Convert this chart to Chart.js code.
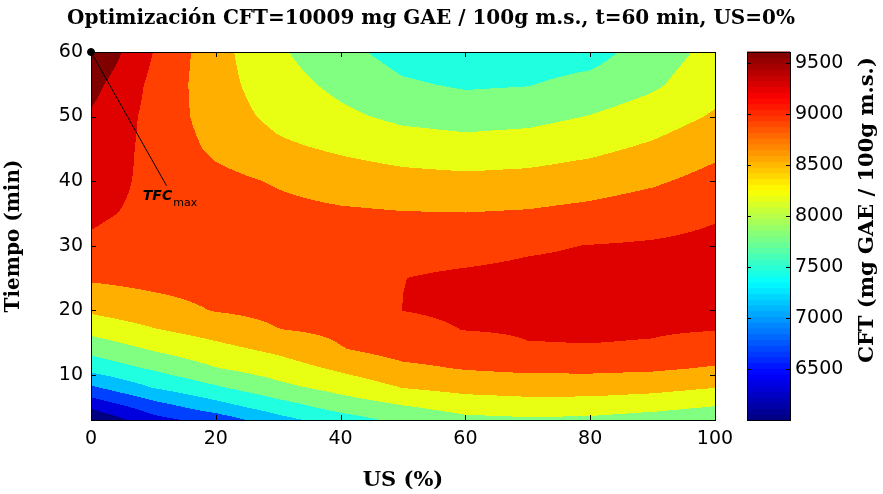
<!DOCTYPE html>
<html>
<head>
<meta charset="utf-8">
<script src="https://cdn.jsdelivr.net/npm/chart.js@4.4.1/dist/chart.umd.min.js"></script>
<style>
  html, body { margin: 0; padding: 0; background: #fff; }
  canvas { display: block; }
</style>
</head>
<body>
<canvas id="myChart" width="883" height="494"></canvas>
<script>
// Response surface grid: US (%) columns, Tiempo (min) rows, CFT in mg GAE / 100g m.s.
const usValues = [0, 10, 20, 30, 40, 50, 60, 70, 80, 90, 100];
const tiempoValues = [3, 5, 8, 11, 14, 17, 20, 25, 30, 35, 40, 45, 50, 55, 60];
const cftRows = [
    [6017, 6550, 6789, 7200, 7500, 7733, 7898, 7931, 7914, 7832, 7749], // t=3
    [6386, 6824, 7168, 7491, 7769, 7947, 8099, 8145, 8132, 8066, 7964], // t=5
    [6934, 7330, 7604, 7881, 8092, 8317, 8416, 8455, 8455, 8409, 8313], // t=8
    [7426, 7693, 7967, 8148, 8369, 8571, 8660, 8703, 8709, 8686, 8610], // t=11
    [7766, 8016, 8214, 8386, 8624, 8772, 8818, 8945, 8950, 8930, 8812], // t=14
    [8082, 8290, 8449, 8633, 8706, 8888, 8977, 9003, 9020, 9003, 8980], // t=17
    [8366, 8511, 8657, 8723, 8756, 8973, 9016, 9036, 9053, 9053, 9036], // t=20
    [8683, 8739, 8772, 8789, 8789, 8967, 9013, 9036, 9036, 9059, 9069], // t=25
    [8930, 8838, 8838, 8805, 8772, 8871, 8878, 8937, 8977, 9003, 9043], // t=30
    [9013, 8911, 8822, 8739, 8690, 8657, 8647, 8673, 8736, 8825, 8937], // t=35
    [9095, 8904, 8739, 8607, 8485, 8422, 8393, 8416, 8488, 8594, 8752], // t=40
    [9178, 8881, 8574, 8376, 8267, 8165, 8115, 8152, 8237, 8369, 8558], // t=45
    [9260, 8874, 8475, 8224, 8049, 7907, 7851, 7884, 7993, 8145, 8346], // t=50
    [9412, 8891, 8442, 8112, 7898, 7693, 7607, 7634, 7752, 7924, 8195], // t=55
    [9630, 8965, 8426, 8030, 7749, 7518, 7452, 7485, 7518, 7815, 8079]  // t=60
];

// contour levels and the fill colour of each band (lowest band first)
const cftLevels = [6330, 6660, 6990, 7320, 7650, 7980, 8310, 8640, 8970, 9300];
const bandColors = ['#000080', '#0000df', '#0040ff', '#00bfff', '#20ffdf', '#80ff80',
                    '#e8ff14', '#ffaf00', '#ff4000', '#df0000', '#800000'];

const cftRange = [6005, 9607];
const usTicks = [0, 20, 40, 60, 80, 100];
const tiempoTicks = [10, 20, 30, 40, 50, 60];
const cftTicks = [6500, 7000, 7500, 8000, 8500, 9000, 9500];

// optimum point and where its label sits
const optimum = [0, 60];
const optimumLabelLine = [12.1, 39.3];
const optimumLabelAt = [8.3, 37.0];

const chartTitle = 'Optimización CFT=10009 mg GAE / 100g m.s., t=60 min, US=0%';
const tickFont = { family: 'DejaVu Sans', size: 19 };
const axisTitleFont = { family: 'DejaVu Serif', size: 21, weight: 'bold' };

function hexToRgb(h) {
    return [parseInt(h.slice(1, 3), 16), parseInt(h.slice(3, 5), 16), parseInt(h.slice(5, 7), 16)];
}
const bandRgb = bandColors.map(hexToRgb);

function locate(arr, v) {
    let i = 0;
    while (i < arr.length - 2 && v > arr[i + 1]) i++;
    const f = (v - arr[i]) / (arr[i + 1] - arr[i]);
    return [i, Math.min(1, Math.max(0, f))];
}

function cftAt(us, t) {
    const [i, fx] = locate(usValues, us);
    const [j, fy] = locate(tiempoValues, t);
    const r0 = cftRows[j], r1 = cftRows[j + 1];
    const a = r0[i] + (r0[i + 1] - r0[i]) * fx;
    const b = r1[i] + (r1[i + 1] - r1[i]) * fx;
    return a + (b - a) * fy;
}

function bandOf(v) {
    let b = 0;
    while (b < cftLevels.length && v >= cftLevels[b]) b++;
    return b;
}

// jet colormap, used for the colour bar
function jet(p) {
    const c = x => Math.round(255 * Math.min(1, Math.max(0, x)));
    return 'rgb(' + c(1.5 - Math.abs(4 * p - 3)) + ',' + c(1.5 - Math.abs(4 * p - 2)) + ',' + c(1.5 - Math.abs(4 * p - 1)) + ')';
}

// keep the plot box where it is: no extra room for half tick labels
function noEndPadding(s) {
    s.paddingTop = 0; s.paddingBottom = 0; s.paddingLeft = 0; s.paddingRight = 0;
}

const contourFill = {
    id: 'contourFill',
    beforeDatasetsDraw(chart) {
        const { ctx, chartArea: a, scales: { x, y } } = chart;
        const w = Math.round(a.right - a.left), h = Math.round(a.bottom - a.top);
        const off = document.createElement('canvas');
        off.width = w; off.height = h;
        const octx = off.getContext('2d');
        const img = octx.createImageData(w, h);
        for (let j = 0; j < h; j++) {
            const t = y.getValueForPixel(a.top + j + 0.5);
            for (let i = 0; i < w; i++) {
                const us = x.getValueForPixel(a.left + i + 0.5);
                const c = bandRgb[bandOf(cftAt(us, t))];
                const k = (j * w + i) * 4;
                img.data[k] = c[0]; img.data[k + 1] = c[1]; img.data[k + 2] = c[2]; img.data[k + 3] = 255;
            }
        }
        octx.putImageData(img, 0, 0);
        ctx.drawImage(off, a.left, a.top);
    }
};

const frameAndColorbar = {
    id: 'frameAndColorbar',
    afterDatasetsDraw(chart) {
        const { ctx, chartArea: a, scales: { x, y, cb } } = chart;
        ctx.save();
        ctx.strokeStyle = '#000';
        ctx.lineWidth = 1;

        // inward ticks on all four sides
        ctx.beginPath();
        usTicks.forEach(v => {
            const px = Math.round(x.getPixelForValue(v)) + 0.5;
            ctx.moveTo(px, a.bottom); ctx.lineTo(px, a.bottom - 5);
            ctx.moveTo(px, a.top); ctx.lineTo(px, a.top + 5);
        });
        tiempoTicks.forEach(v => {
            const py = Math.round(y.getPixelForValue(v)) + 0.5;
            ctx.moveTo(a.left, py); ctx.lineTo(a.left + 5, py);
            ctx.moveTo(a.right, py); ctx.lineTo(a.right - 5, py);
        });
        ctx.stroke();
        ctx.strokeRect(Math.round(a.left) + 0.5, Math.round(a.top) + 0.5,
                       Math.round(a.right - a.left), Math.round(a.bottom - a.top));

        // optimum label with leader line
        const p0x = x.getPixelForValue(optimum[0]), p0y = y.getPixelForValue(optimum[1]);
        ctx.beginPath();
        ctx.moveTo(p0x, p0y);
        ctx.lineTo(x.getPixelForValue(optimumLabelLine[0]), y.getPixelForValue(optimumLabelLine[1]));
        ctx.stroke();
        const lx = x.getPixelForValue(optimumLabelAt[0]), ly = y.getPixelForValue(optimumLabelAt[1]);
        ctx.fillStyle = '#000';
        ctx.textBaseline = 'alphabetic';
        ctx.font = 'italic bold 14px "DejaVu Sans"';
        ctx.fillText('TFC', lx, ly);
        const tw = ctx.measureText('TFC').width;
        ctx.font = '11px "DejaVu Sans"';
        ctx.fillText('max', lx + tw + 1, ly + 6);

        // colour bar
        const cx0 = a.right + 32, cx1 = a.right + 75;
        const yTop = cb.getPixelForValue(cftRange[1]), yBot = cb.getPixelForValue(cftRange[0]);
        const steps = 64, sh = (yBot - yTop) / steps;
        for (let k = 0; k < steps; k++) {
            ctx.fillStyle = jet((k + 0.5) / steps);
            ctx.fillRect(cx0, yBot - (k + 1) * sh - 0.5, cx1 - cx0, sh + 1);
        }
        ctx.strokeRect(Math.round(cx0) + 0.5, Math.round(yTop) + 0.5, Math.round(cx1 - cx0), Math.round(yBot - yTop));
        ctx.beginPath();
        cftTicks.forEach(v => {
            const py = Math.round(cb.getPixelForValue(v)) + 0.5;
            ctx.moveTo(cx0, py); ctx.lineTo(cx0 + 4, py);
            ctx.moveTo(cx1, py); ctx.lineTo(cx1 - 4, py);
        });
        ctx.stroke();

        ctx.fillStyle = '#000';
        ctx.textAlign = 'center';
        ctx.textBaseline = 'middle';

        // chart title
        ctx.font = 'bold 20px "DejaVu Serif"';
        ctx.fillText(chartTitle, 431, 19);

        // colour bar title, reading upwards
        ctx.translate(868, 210);
        ctx.rotate(-Math.PI / 2);
        ctx.font = 'bold 21px "DejaVu Serif"';
        ctx.fillText('CFT (mg GAE / 100g m.s.)', 0, 0);
        ctx.restore();
    }
};

new Chart(document.getElementById('myChart'), {
    type: 'scatter',
    data: {
        datasets: [{
            data: [{ x: optimum[0], y: optimum[1] }],
            pointRadius: 3.5,
            pointBackgroundColor: '#000',
            pointBorderColor: '#000',
            clip: false
        }]
    },
    options: {
        responsive: false,
        animation: false,
        devicePixelRatio: 1,
        layout: { padding: { top: 52, left: 0, right: 0, bottom: 0 } },
        plugins: {
            legend: { display: false },
            tooltip: { enabled: false },
            title: { display: false }
        },
        scales: {
            x: {
                type: 'linear', min: 0, max: 100,
                grid: { display: false, drawTicks: false },
                border: { color: '#000' },
                ticks: { color: '#000', font: tickFont, padding: 8 },
                afterBuildTicks: s => { s.ticks = usTicks.map(v => ({ value: v })); },
                afterFit: s => { s.height = 74; noEndPadding(s); },
                title: { display: true, text: 'US (%)', color: '#000', font: axisTitleFont, padding: { top: 0, bottom: 1 } }
            },
            y: {
                type: 'linear', min: 3, max: 60,
                grid: { display: false, drawTicks: false },
                border: { color: '#000' },
                ticks: { color: '#000', font: tickFont, padding: 8 },
                afterBuildTicks: s => { s.ticks = tiempoTicks.map(v => ({ value: v })); },
                afterFit: s => { s.width = 91; noEndPadding(s); },
                title: { display: true, text: 'Tiempo (min)', color: '#000', font: { family: 'DejaVu Serif', size: 20, weight: 'bold' }, padding: { top: 2, bottom: 0 } }
            },
            cb: {
                type: 'linear', position: 'right', min: cftRange[0], max: cftRange[1],
                grid: { display: false, drawTicks: false },
                border: { display: false },
                ticks: { color: '#000', font: tickFont, padding: 80, callback: v => String(v) },
                afterBuildTicks: s => { s.ticks = cftTicks.map(v => ({ value: v })); },
                afterFit: s => { s.width = 168; noEndPadding(s); }
            }
        }
    },
    plugins: [contourFill, frameAndColorbar]
});
</script>
</body>
</html>
